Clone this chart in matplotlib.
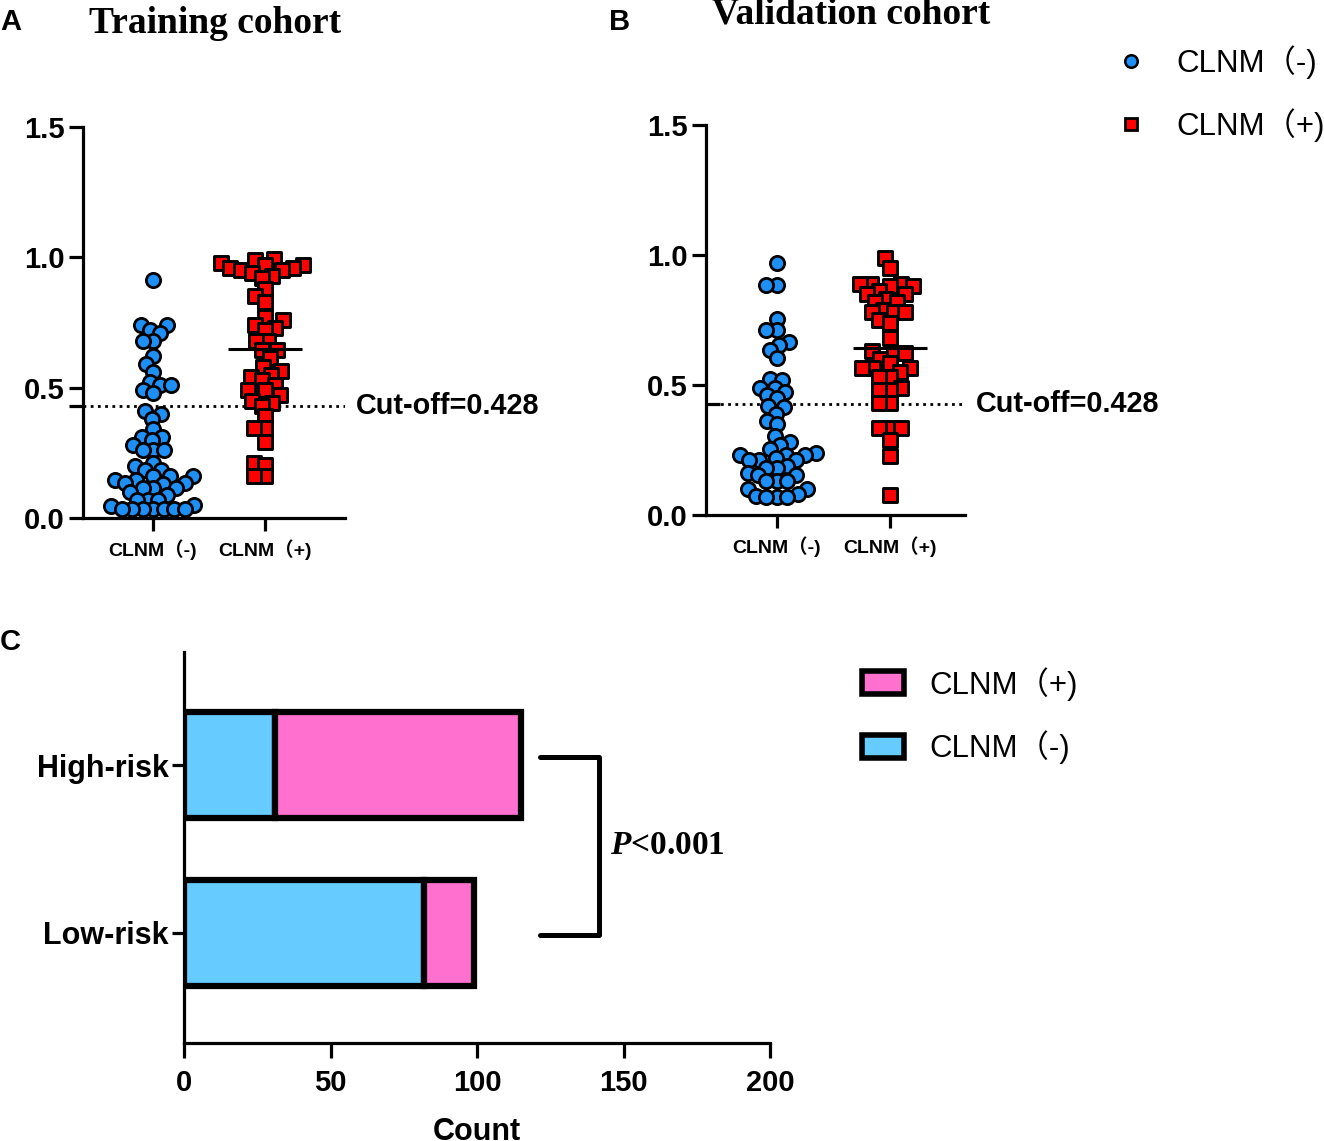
import numpy as np
import matplotlib
matplotlib.use("Agg")
import matplotlib.pyplot as plt
from matplotlib.lines import Line2D
from matplotlib.patches import Patch

plt.rcParams['font.family'] = ['Liberation Sans', 'Noto Sans CJK SC']
plt.rcParams['font.weight'] = 'bold'
plt.rcParams['axes.labelweight'] = 'bold'
plt.rcParams['mathtext.fontset'] = 'custom'
plt.rcParams['mathtext.it'] = 'Liberation Serif:italic:bold'
plt.rcParams['mathtext.rm'] = 'Liberation Serif:bold'

# ---- data -------------------------------------------------------------
groups = ['CLNM（-)', 'CLNM（+)']
cutoff = 0.428

train_neg = [0.914, 0.74, 0.74, 0.72, 0.71, 0.68, 0.68, 0.62, 0.59, 0.56, 0.52,
             0.51, 0.51, 0.49, 0.48, 0.41, 0.40, 0.38, 0.34, 0.31, 0.31, 0.30,
             0.28, 0.26, 0.26, 0.26, 0.21, 0.20, 0.185, 0.185, 0.16, 0.16, 0.16,
             0.147, 0.147, 0.135, 0.135, 0.13, 0.115, 0.115, 0.115, 0.10, 0.09,
             0.07, 0.07, 0.07, 0.05, 0.045, 0.035, 0.035, 0.035, 0.035, 0.035,
             0.035, 0.035]
train_pos = [0.99, 0.995, 0.98, 0.97, 0.97, 0.96, 0.95, 0.96, 0.95, 0.94, 0.93,
             0.92, 0.88, 0.85, 0.83, 0.77, 0.76, 0.74, 0.73, 0.72, 0.68, 0.68,
             0.645, 0.645, 0.615, 0.58, 0.565, 0.55, 0.54, 0.53, 0.51, 0.49,
             0.49, 0.47, 0.45, 0.44, 0.43, 0.39, 0.345, 0.345, 0.29, 0.21,
             0.205, 0.16, 0.16]
valid_neg = [0.968, 0.885, 0.885, 0.754, 0.71, 0.71, 0.667, 0.654, 0.635, 0.605,
             0.525, 0.52, 0.49, 0.49, 0.475, 0.46, 0.45, 0.42, 0.415, 0.39, 0.36,
             0.35, 0.305, 0.28, 0.27, 0.255, 0.24, 0.23, 0.23, 0.23, 0.22, 0.21,
             0.21, 0.21, 0.19, 0.18, 0.18, 0.16, 0.155, 0.155, 0.13, 0.13, 0.13,
             0.10, 0.10, 0.08, 0.075, 0.07, 0.07, 0.07]
valid_pos = [0.987, 0.95, 0.89, 0.89, 0.89, 0.88, 0.88, 0.86, 0.85, 0.85, 0.83,
             0.82, 0.82, 0.79, 0.78, 0.78, 0.78, 0.75, 0.74, 0.68, 0.63, 0.625,
             0.625, 0.60, 0.585, 0.565, 0.565, 0.565, 0.55, 0.53, 0.53, 0.49,
             0.48, 0.48, 0.43, 0.43, 0.333, 0.333, 0.333, 0.29, 0.228, 0.077]

risk_groups = ['Low-risk', 'High-risk']
risk_neg = [82, 31]
risk_pos = [17, 84]

BLUE = '#1E8FF5'
RED = '#FF0000'
LIGHT_BLUE = '#66CCFF'
PINK = '#FF70CF'

W, H = 1324, 1141
fig = plt.figure(figsize=(W / 100, H / 100), dpi=100)


def swarm_x(values, center, ax, d_px):
    # simple beeswarm: put each point as close to the centre as it can go
    x0, y0 = ax.transData.transform((0, 0))
    x1, y1 = ax.transData.transform((1, 1))
    sx, sy = x1 - x0, y1 - y0
    vals = np.asarray(values)
    out = np.zeros(len(vals))
    placed = []
    for i in np.argsort(vals, kind='stable'):
        yp = vals[i] * sy
        cands = [0.0]
        for xp, yq in placed:
            dy = abs(yp - yq)
            if dy < d_px:
                dx = np.sqrt(d_px ** 2 - dy ** 2)
                cands += [xp + dx, xp - dx]
        cands.sort(key=lambda c: (round(abs(c), 6), c))
        for c in cands:
            if all((c - xp) ** 2 + (yp - yq) ** 2 >= d_px ** 2 - 1e-6 for xp, yq in placed):
                break
        placed.append((c, yp))
        out[i] = center + c / sx
    return out


def dot_panel(ax, neg, pos, xlim, tick_dir):
    ax.set_xlim(*xlim)
    ax.set_ylim(0, 1.5)
    for s in ['top', 'right']:
        ax.spines[s].set_visible(False)
    for s in ['left', 'bottom']:
        ax.spines[s].set_linewidth(2.3)
    ax.set_yticks([0, 0.5, 1.0, 1.5])
    ax.set_yticklabels(['0.0', '0.5', '1.0', '1.5'])
    ax.set_xticks([0, 1])
    ax.set_xticklabels(groups, fontsize=14)
    ax.tick_params(axis='y', labelsize=21, length=10, width=2.3, pad=3)
    ax.tick_params(axis='x', length=9, width=2.3, pad=6)
    ax.set_yticks([cutoff], minor=True)
    ax.tick_params(axis='y', which='minor', length=10, width=2.3, direction=tick_dir)

    xn = swarm_x(neg, 0, ax, 10.5)
    xp = swarm_x(pos, 1, ax, 11.0)
    ax.scatter(xn, neg, s=105, marker='o', color=BLUE, edgecolor='black',
               linewidth=2.0, zorder=3, clip_on=False)
    ax.scatter(xp, pos, s=110, marker='s', color=RED, edgecolor='black',
               linewidth=2.1, zorder=3, clip_on=False)
    ax.hlines(np.mean(pos), 1 - 0.33, 1 + 0.33, color='black', lw=2.2, zorder=4)

    ax.axhline(cutoff, color='black', lw=2.0, linestyle=(0, (1, 1.6)), zorder=2)
    ax.annotate('Cut-off=0.428', xy=(1, cutoff), xycoords=('axes fraction', 'data'),
                xytext=(8, 0), textcoords='offset points', va='center',
                ha='left', fontsize=20.8, annotation_clip=False)


axA = fig.add_axes([83 / W, 1 - 518 / H, (345 - 83) / W, (518 - 127) / H])
dot_panel(axA, train_neg, train_pos, (-0.625, 1.714), 'out')
axB = fig.add_axes([706 / W, 1 - 515 / H, (965 - 706) / W, (515 - 125) / H])
dot_panel(axB, valid_neg, valid_pos, (-0.628, 1.664), 'in')

fig.text(215 / W, 1 - 33 / H, 'Training cohort', family='Liberation Serif',
         fontsize=27, ha='center', va='baseline')
fig.text(851 / W, 1 - 24 / H, 'Validation cohort', family='Liberation Serif',
         fontsize=27, ha='center', va='baseline')
fig.text(0 / W, 1 - 30 / H, 'A', fontsize=21, ha='left', va='baseline')
fig.text(609 / W, 1 - 30 / H, 'B', fontsize=21, ha='left', va='baseline')
fig.text(0 / W, 1 - 650 / H, 'C', fontsize=21, ha='left', va='baseline')

legend_prop = {'family': ['Liberation Sans', 'Noto Sans CJK SC'], 'weight': 'normal', 'size': 22.5}
top_handles = [
    Line2D([], [], linestyle='none', marker='o', markersize=9, markerfacecolor=BLUE,
           markeredgecolor='black', markeredgewidth=1.8),
    Line2D([], [], linestyle='none', marker='s', markersize=9, markerfacecolor=RED,
           markeredgecolor='black', markeredgewidth=2.0),
]
fig.legend(top_handles, groups, loc='upper left', bbox_to_anchor=(1115 / W, 1 - 45 / H),
           frameon=False, prop=legend_prop, handlelength=1.0, handletextpad=0.95,
           labelspacing=0.95, borderpad=0, borderaxespad=0)

# ---- panel C ----------------------------------------------------------
axC = fig.add_axes([184 / W, 1 - 1043 / H, (770 - 184) / W, (1043 - 652) / H])
ypos = np.arange(len(risk_groups))
axC.barh(ypos, risk_neg, height=0.63, color=LIGHT_BLUE, edgecolor='black', lw=4.5, zorder=2)
axC.barh(ypos, risk_pos, left=risk_neg, height=0.63, color=PINK, edgecolor='black',
         lw=4.5, zorder=2)
axC.set_xlim(0, 200)
axC.set_ylim(-0.655, 1.673)
axC.set_xticks([0, 50, 100, 150, 200])
axC.set_yticks(ypos)
axC.set_yticklabels(risk_groups)
axC.tick_params(axis='x', labelsize=21, length=11, width=2.3, pad=8)
axC.tick_params(axis='y', labelsize=22, length=9, width=2.3, pad=2)
for s in ['top', 'right']:
    axC.spines[s].set_visible(False)
for s in ['left', 'bottom']:
    axC.spines[s].set_linewidth(2.3)
axC.set_xlabel('Count', fontsize=22, fontweight='bold', labelpad=14)

totals = np.array(risk_neg) + np.array(risk_pos)
bx0 = totals.max() + 6.5
bx1 = bx0 + 20
axC.plot([bx0, bx1, bx1, bx0], [ypos[1] + 0.05, ypos[1] + 0.05, ypos[0] - 0.01, ypos[0] - 0.01],
         color='black', lw=3.6, solid_capstyle='round', clip_on=False)
axC.text(bx1 + 4, 0.52, '$P$<0.001', family='Liberation Serif', fontweight='bold',
         fontsize=24, ha='left', va='center')

bottom_handles = [
    Patch(facecolor=PINK, edgecolor='black', linewidth=4),
    Patch(facecolor=LIGHT_BLUE, edgecolor='black', linewidth=4),
]
fig.legend(bottom_handles, [groups[1], groups[0]], loc='upper left',
           bbox_to_anchor=(862 / W, 1 - 667 / H), frameon=False, prop=legend_prop,
           handlelength=1.35, handleheight=0.75, handletextpad=0.8, labelspacing=0.95,
           borderpad=0, borderaxespad=0)

fig.savefig('out.png', dpi=100)
